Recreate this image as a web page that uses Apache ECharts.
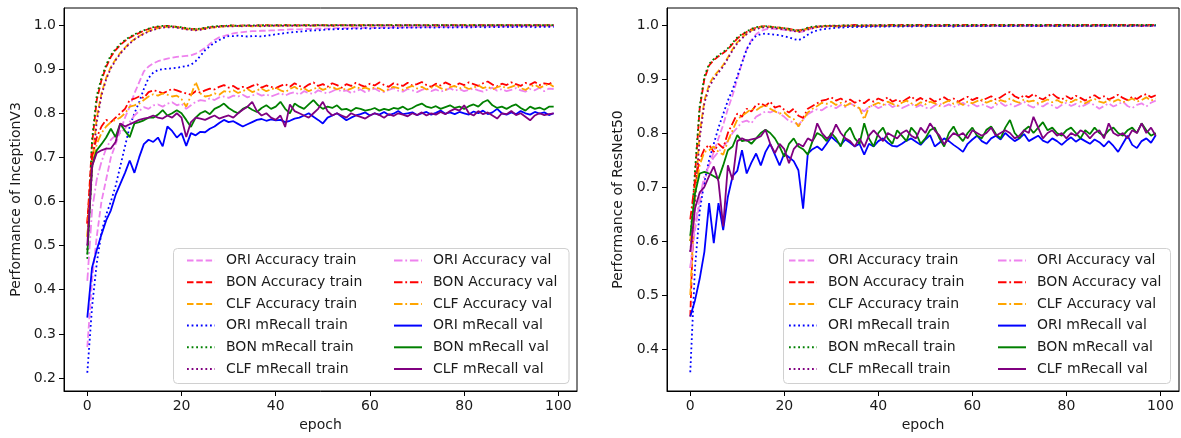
<!DOCTYPE html>
<html><head><meta charset="utf-8">
<script src="https://cdn.jsdelivr.net/npm/echarts@6/dist/echarts.min.js"></script>
<style>html,body{margin:0;padding:0;background:#fff}#c{width:1181px;height:438px}</style>
</head><body><div id="c"></div>
<script>
// ---------- data ----------
const xTicks = [0, 20, 40, 60, 80, 100];
const yTicksLeft = [0.2, 0.3, 0.4, 0.5, 0.6, 0.7, 0.8, 0.9, 1.0];
const yTicksRight = [0.4, 0.5, 0.6, 0.7, 0.8, 0.9, 1.0];
const seriesNames = ['ORI Accuracy train','BON Accuracy train','CLF Accuracy train','ORI mRecall train','BON mRecall train','CLF mRecall train',
  'ORI Accuracy val','BON Accuracy val','CLF Accuracy val','ORI mRecall val','BON mRecall val','CLF mRecall val'];
const yLabels = ['Performance of InceptionV3', 'Performance of ResNet50'];
const xLabel = 'epoch';

// ===== InceptionV3 =====
const incOriAccTrain = [
0.27,0.42,0.52,0.60,0.65,0.70,0.73,0.76,0.79,0.815,
0.845,0.87,0.895,0.906,0.913,0.918,0.921,0.924,0.926,0.928,
0.929,0.93,0.931,0.935,0.941,0.948,0.957,0.966,0.972,0.975,
0.978,0.981,0.983,0.984,0.985,0.986,0.986,0.987,0.987,0.988,
0.988,0.989,0.989,0.99,0.99,0.99,0.991,0.991,0.991,0.992,
0.992,0.992,0.992,0.993,0.993,0.993,0.993,0.994,0.993,0.994,
0.994,0.994,0.994,0.995,0.994,0.995,0.995,0.995,0.995,0.995,
0.995,0.996,0.995,0.996,0.996,0.996,0.996,0.996,0.996,0.997,
0.996,0.997,0.996,0.997,0.997,0.997,0.997,0.997,0.997,0.997,
0.997,0.997,0.998,0.997,0.997,0.998,0.997,0.998,0.998,0.998];
const incBonAccTrain = [
0.55,0.73,0.83,0.875,0.905,0.928,0.943,0.955,0.964,0.971,
0.977,0.982,0.987,0.991,0.994,0.996,0.997,0.998,0.997,0.996,
0.994,0.992,0.991,0.99,0.991,0.993,0.995,0.996,0.997,0.998,
0.998,0.999,0.998,0.999,0.999,0.998,0.999,0.999,1.0,0.999,
0.999,0.999,1.0,0.999,0.999,1.0,0.999,1.0,0.999,1.0,
0.999,1.0,0.999,1.0,1.0,0.999,1.0,0.999,1.0,1.0,
0.999,1.0,1.0,0.999,1.0,1.0,0.999,1.0,1.0,0.999,
1.0,1.0,0.999,1.0,1.0,1.0,0.999,1.0,1.0,1.0,
1.0,0.999,1.0,1.0,1.0,1.0,0.999,1.0,1.0,1.0,
1.0,1.0,0.999,1.0,1.0,1.0,1.0,0.999,1.0,1.0];
const incClfAccTrain = [
0.52,0.68,0.79,0.845,0.88,0.905,0.922,0.937,0.949,0.96,
0.968,0.975,0.981,0.986,0.99,0.993,0.995,0.996,0.996,0.995,
0.993,0.991,0.99,0.989,0.99,0.992,0.994,0.995,0.996,0.997,
0.997,0.998,0.997,0.998,0.998,0.997,0.998,0.998,0.999,0.998,
0.998,0.999,0.998,0.999,0.999,0.998,0.999,0.999,0.998,0.999,
0.999,0.999,0.998,0.999,0.999,0.999,0.998,0.999,0.999,0.999,
0.999,0.998,0.999,0.999,0.999,0.999,0.999,0.998,0.999,0.999,
0.999,0.999,0.999,0.999,0.998,0.999,0.999,0.999,0.999,0.999,
0.999,0.999,0.999,0.998,0.999,0.999,0.999,0.999,0.999,0.999,
0.999,0.999,0.999,0.999,0.999,0.998,0.999,0.999,0.999,0.999];
const incOriRecTrain = [
0.212,0.36,0.46,0.53,0.57,0.60,0.635,0.68,0.725,0.77,
0.80,0.825,0.855,0.88,0.892,0.898,0.90,0.901,0.902,0.903,
0.905,0.907,0.91,0.918,0.93,0.943,0.952,0.96,0.966,0.971,
0.975,0.975,0.976,0.975,0.974,0.975,0.975,0.974,0.976,0.977,
0.979,0.98,0.982,0.983,0.984,0.985,0.986,0.987,0.988,0.988,
0.989,0.99,0.99,0.991,0.991,0.991,0.992,0.992,0.992,0.993,
0.992,0.993,0.993,0.993,0.993,0.994,0.993,0.994,0.994,0.994,
0.994,0.994,0.995,0.994,0.994,0.995,0.995,0.994,0.995,0.995,
0.995,0.995,0.995,0.996,0.995,0.995,0.996,0.995,0.996,0.996,
0.995,0.996,0.996,0.996,0.996,0.995,0.996,0.996,0.996,0.996];
const incBonRecTrain = [
0.47,0.74,0.84,0.88,0.91,0.932,0.946,0.957,0.966,0.973,
0.979,0.984,0.988,0.992,0.995,0.997,0.998,0.998,0.997,0.996,
0.995,0.993,0.992,0.991,0.992,0.994,0.996,0.997,0.998,0.998,
0.999,0.999,0.998,0.999,0.999,0.999,0.999,1.0,0.999,0.999,
1.0,0.999,1.0,0.999,1.0,0.999,1.0,1.0,0.999,1.0,
1.0,0.999,1.0,1.0,0.999,1.0,1.0,1.0,0.999,1.0,
1.0,1.0,0.999,1.0,1.0,1.0,1.0,0.999,1.0,1.0,
1.0,0.999,1.0,1.0,1.0,1.0,1.0,1.0,0.999,1.0,
1.0,1.0,1.0,1.0,0.999,1.0,1.0,1.0,1.0,1.0,
0.999,1.0,1.0,1.0,1.0,1.0,1.0,1.0,1.0,1.0];
const incClfRecTrain = [
0.49,0.67,0.78,0.84,0.877,0.902,0.92,0.935,0.947,0.958,
0.967,0.974,0.98,0.985,0.989,0.992,0.994,0.995,0.995,0.994,
0.992,0.99,0.989,0.988,0.989,0.991,0.993,0.995,0.996,0.997,
0.997,0.997,0.998,0.997,0.998,0.998,0.998,0.997,0.998,0.998,
0.999,0.998,0.998,0.999,0.998,0.999,0.999,0.998,0.999,0.999,
0.999,0.999,0.998,0.999,0.999,0.999,0.999,0.999,0.998,0.999,
0.999,0.999,0.999,0.999,0.999,0.998,0.999,0.999,0.999,0.999,
0.999,0.999,0.999,0.998,0.999,0.999,0.999,0.999,0.999,0.999,
0.999,0.998,0.999,0.999,0.999,0.999,0.999,0.999,0.999,0.999,
0.999,0.999,0.999,0.999,0.998,0.999,0.999,0.999,0.999,0.999];
const incOriAccVal = [
0.42,0.58,0.65,0.69,0.72,0.74,0.75,0.755,0.765,0.78,
0.795,0.805,0.814,0.81,0.818,0.82,0.815,0.822,0.825,0.818,
0.822,0.81,0.818,0.826,0.83,0.828,0.834,0.83,0.836,0.838,
0.835,0.84,0.838,0.842,0.836,0.84,0.845,0.84,0.843,0.838,
0.842,0.846,0.84,0.845,0.848,0.842,0.85,0.846,0.844,0.852,
0.848,0.845,0.85,0.855,0.849,0.852,0.846,0.85,0.854,0.848,
0.852,0.856,0.85,0.848,0.853,0.857,0.851,0.849,0.855,0.852,
0.848,0.853,0.856,0.85,0.854,0.849,0.852,0.857,0.851,0.855,
0.85,0.853,0.856,0.852,0.849,0.854,0.858,0.851,0.855,0.85,
0.853,0.857,0.852,0.849,0.855,0.852,0.858,0.85,0.856,0.855];
const incBonAccVal = [
0.55,0.70,0.745,0.77,0.785,0.78,0.79,0.80,0.81,0.83,
0.833,0.838,0.835,0.848,0.852,0.85,0.845,0.85,0.855,0.852,
0.848,0.845,0.842,0.85,0.847,0.852,0.856,0.854,0.86,0.864,
0.858,0.862,0.855,0.86,0.857,0.862,0.866,0.858,0.863,0.86,
0.857,0.862,0.866,0.86,0.868,0.862,0.858,0.865,0.87,0.862,
0.866,0.86,0.868,0.864,0.858,0.866,0.862,0.869,0.864,0.86,
0.867,0.863,0.87,0.864,0.86,0.868,0.865,0.862,0.869,0.863,
0.866,0.871,0.864,0.86,0.867,0.863,0.87,0.865,0.861,0.868,
0.864,0.87,0.866,0.862,0.868,0.872,0.865,0.861,0.867,0.864,
0.87,0.866,0.862,0.869,0.865,0.871,0.864,0.868,0.866,0.873];
const incClfAccVal = [
0.52,0.68,0.73,0.755,0.77,0.78,0.785,0.79,0.80,0.815,
0.818,0.822,0.83,0.838,0.843,0.84,0.845,0.842,0.838,0.84,
0.832,0.815,0.84,0.871,0.845,0.838,0.84,0.845,0.842,0.85,
0.848,0.852,0.846,0.85,0.855,0.848,0.852,0.856,0.85,0.854,
0.858,0.852,0.848,0.855,0.86,0.853,0.857,0.85,0.855,0.859,
0.853,0.857,0.86,0.854,0.858,0.852,0.856,0.861,0.855,0.858,
0.854,0.859,0.856,0.85,0.855,0.86,0.857,0.853,0.858,0.862,
0.856,0.86,0.854,0.858,0.863,0.857,0.853,0.859,0.862,0.856,
0.86,0.855,0.858,0.863,0.857,0.86,0.854,0.859,0.862,0.856,
0.86,0.864,0.857,0.853,0.86,0.865,0.858,0.862,0.867,0.86];
const incOriRecVal = [
0.337,0.45,0.49,0.525,0.557,0.58,0.615,0.64,0.665,0.693,
0.665,0.70,0.73,0.74,0.735,0.745,0.725,0.77,0.76,0.745,
0.755,0.726,0.755,0.75,0.758,0.757,0.765,0.77,0.778,0.785,
0.78,0.782,0.776,0.77,0.775,0.78,0.785,0.787,0.783,0.786,
0.784,0.785,0.78,0.783,0.788,0.79,0.795,0.80,0.792,0.785,
0.777,0.79,0.795,0.80,0.792,0.784,0.79,0.795,0.798,0.802,
0.795,0.80,0.797,0.803,0.796,0.799,0.805,0.798,0.80,0.802,
0.796,0.80,0.803,0.797,0.801,0.806,0.799,0.802,0.798,0.803,
0.80,0.797,0.804,0.80,0.806,0.798,0.802,0.81,0.80,0.797,
0.802,0.798,0.805,0.80,0.797,0.803,0.799,0.802,0.796,0.80];
const incBonRecVal = [
0.48,0.68,0.716,0.73,0.745,0.765,0.746,0.777,0.76,0.746,
0.777,0.78,0.784,0.79,0.79,0.797,0.807,0.795,0.80,0.807,
0.80,0.785,0.769,0.79,0.80,0.805,0.798,0.81,0.815,0.822,
0.812,0.805,0.80,0.81,0.815,0.808,0.803,0.812,0.818,0.81,
0.815,0.826,0.81,0.80,0.822,0.815,0.81,0.82,0.83,0.818,
0.81,0.815,0.812,0.818,0.808,0.81,0.805,0.812,0.81,0.806,
0.808,0.812,0.806,0.81,0.807,0.812,0.81,0.815,0.808,0.812,
0.818,0.822,0.815,0.812,0.816,0.81,0.814,0.818,0.812,0.815,
0.81,0.816,0.82,0.815,0.825,0.83,0.818,0.812,0.815,0.81,
0.816,0.82,0.812,0.806,0.815,0.81,0.813,0.808,0.815,0.815];
const incClfRecVal = [
0.50,0.68,0.71,0.716,0.72,0.72,0.735,0.777,0.77,0.775,
0.78,0.785,0.788,0.79,0.795,0.79,0.788,0.795,0.79,0.80,
0.79,0.746,0.78,0.79,0.788,0.785,0.79,0.795,0.788,0.792,
0.795,0.79,0.80,0.808,0.815,0.826,0.805,0.795,0.80,0.79,
0.785,0.795,0.769,0.82,0.805,0.80,0.795,0.79,0.80,0.81,
0.826,0.805,0.795,0.80,0.795,0.79,0.80,0.795,0.792,0.788,
0.795,0.80,0.796,0.79,0.798,0.794,0.80,0.797,0.793,0.80,
0.796,0.802,0.795,0.80,0.797,0.803,0.798,0.805,0.81,0.806,
0.818,0.80,0.795,0.805,0.798,0.802,0.795,0.788,0.80,0.798,
0.805,0.796,0.80,0.792,0.784,0.795,0.80,0.796,0.798,0.80];

// ===== ResNet50 =====
const resOriAccTrain = [
0.55,0.62,0.67,0.71,0.74,0.765,0.79,0.815,0.845,0.87,
0.90,0.93,0.955,0.972,0.983,0.989,0.992,0.993,0.993,0.992,
0.991,0.99,0.989,0.987,0.988,0.991,0.994,0.996,0.997,0.998,
0.998,0.998,0.999,0.998,0.999,0.999,0.998,0.999,0.999,0.999,
0.998,0.999,0.999,0.999,0.999,0.998,0.999,0.999,0.999,0.999,
0.999,0.998,0.999,0.999,0.999,0.999,0.999,0.998,0.999,0.999,
0.999,0.999,0.999,0.999,0.998,0.999,0.999,0.999,0.999,0.999,
0.999,0.999,0.998,0.999,0.999,0.999,0.999,0.999,0.999,0.999,
0.999,0.999,0.999,0.999,0.999,0.998,0.999,0.999,0.999,0.999,
0.999,0.999,0.999,0.999,0.999,0.999,0.999,0.998,0.999,0.999];
const resBonAccTrain = [
0.46,0.72,0.845,0.90,0.925,0.935,0.942,0.948,0.955,0.965,
0.975,0.982,0.987,0.992,0.995,0.997,0.998,0.997,0.996,0.995,
0.994,0.993,0.991,0.99,0.991,0.994,0.996,0.997,0.998,0.998,
0.999,0.998,0.999,0.999,0.999,1.0,0.999,0.999,1.0,0.999,
1.0,0.999,1.0,1.0,0.999,1.0,1.0,0.999,1.0,1.0,
1.0,1.0,0.999,1.0,1.0,1.0,0.999,1.0,1.0,1.0,
1.0,0.999,1.0,1.0,1.0,1.0,1.0,0.999,1.0,1.0,
1.0,1.0,1.0,1.0,0.999,1.0,1.0,1.0,1.0,1.0,
1.0,1.0,0.999,1.0,1.0,1.0,1.0,1.0,1.0,0.999,
1.0,1.0,1.0,1.0,1.0,1.0,0.999,1.0,1.0,1.0];
const resClfAccTrain = [
0.50,0.68,0.80,0.86,0.89,0.905,0.915,0.926,0.94,0.955,
0.968,0.977,0.984,0.99,0.993,0.996,0.997,0.996,0.995,0.994,
0.993,0.991,0.99,0.988,0.99,0.993,0.995,0.996,0.997,0.998,
0.998,0.997,0.998,0.998,0.999,0.998,0.998,0.999,0.998,0.999,
0.999,0.998,0.999,0.999,0.999,0.998,0.999,0.999,0.999,0.999,
0.998,0.999,0.999,0.999,0.999,0.999,0.998,0.999,0.999,0.999,
0.999,0.999,0.999,0.998,0.999,0.999,0.999,0.999,0.999,0.999,
0.999,0.998,0.999,0.999,0.999,0.999,0.999,0.999,0.998,0.999,
0.999,0.999,0.999,0.999,0.999,0.999,0.999,0.998,0.999,0.999,
0.999,0.999,0.999,0.999,0.999,0.999,0.999,0.999,0.999,0.999];
const resOriRecTrain = [
0.357,0.55,0.655,0.71,0.75,0.78,0.81,0.835,0.86,0.88,
0.905,0.93,0.955,0.97,0.98,0.983,0.984,0.983,0.982,0.981,
0.979,0.977,0.974,0.972,0.976,0.982,0.987,0.99,0.992,0.993,
0.994,0.995,0.995,0.996,0.996,0.996,0.997,0.996,0.997,0.997,
0.997,0.997,0.997,0.998,0.997,0.997,0.998,0.997,0.998,0.998,
0.997,0.998,0.998,0.998,0.998,0.998,0.997,0.998,0.998,0.998,
0.998,0.998,0.998,0.998,0.998,0.999,0.998,0.998,0.998,0.998,
0.998,0.999,0.998,0.998,0.998,0.998,0.999,0.998,0.998,0.998,
0.999,0.998,0.998,0.998,0.999,0.998,0.998,0.999,0.998,0.998,
0.999,0.998,0.999,0.998,0.998,0.999,0.998,0.999,0.998,0.999];
const resBonRecTrain = [
0.60,0.73,0.85,0.905,0.928,0.937,0.944,0.95,0.957,0.967,
0.977,0.983,0.988,0.993,0.996,0.997,0.998,0.997,0.996,0.995,
0.994,0.993,0.991,0.99,0.992,0.995,0.997,0.998,0.998,0.999,
0.999,0.999,0.999,1.0,0.999,0.999,1.0,0.999,1.0,0.999,
1.0,1.0,0.999,1.0,1.0,0.999,1.0,1.0,1.0,0.999,
1.0,1.0,1.0,0.999,1.0,1.0,1.0,1.0,0.999,1.0,
1.0,1.0,1.0,1.0,0.999,1.0,1.0,1.0,1.0,1.0,
0.999,1.0,1.0,1.0,1.0,1.0,1.0,0.999,1.0,1.0,
1.0,1.0,1.0,1.0,1.0,0.999,1.0,1.0,1.0,1.0,
1.0,1.0,1.0,0.999,1.0,1.0,1.0,1.0,1.0,1.0];
const resClfRecTrain = [
0.58,0.67,0.79,0.855,0.885,0.90,0.912,0.923,0.938,0.953,
0.966,0.975,0.983,0.989,0.992,0.995,0.996,0.995,0.994,0.993,
0.992,0.99,0.989,0.987,0.989,0.992,0.994,0.996,0.997,0.997,
0.998,0.998,0.997,0.998,0.998,0.999,0.998,0.998,0.999,0.998,
0.999,0.999,0.998,0.999,0.999,0.999,0.998,0.999,0.999,0.999,
0.999,0.999,0.999,0.998,0.999,0.999,0.999,0.999,0.999,0.998,
0.999,0.999,0.999,0.999,0.999,0.999,0.998,0.999,0.999,0.999,
0.999,0.999,0.999,0.999,0.999,0.998,0.999,0.999,0.999,0.999,
0.999,0.999,0.999,0.999,0.999,0.999,0.999,0.999,0.998,0.999,
0.999,0.999,0.999,0.999,0.999,0.999,0.999,0.999,0.999,0.999];
const resOriAccVal = [
0.55,0.63,0.68,0.72,0.74,0.755,0.765,0.775,0.785,0.80,
0.81,0.82,0.823,0.818,0.83,0.835,0.84,0.838,0.842,0.836,
0.83,0.822,0.82,0.815,0.825,0.835,0.84,0.844,0.842,0.848,
0.85,0.846,0.852,0.848,0.855,0.85,0.845,0.84,0.848,0.852,
0.846,0.85,0.855,0.848,0.852,0.846,0.85,0.854,0.848,0.852,
0.847,0.845,0.851,0.855,0.849,0.853,0.848,0.852,0.856,0.85,
0.854,0.849,0.853,0.85,0.846,0.852,0.856,0.85,0.854,0.849,
0.853,0.858,0.851,0.847,0.853,0.849,0.855,0.851,0.846,0.852,
0.856,0.85,0.854,0.848,0.852,0.857,0.851,0.845,0.85,0.855,
0.849,0.853,0.858,0.85,0.846,0.852,0.855,0.849,0.856,0.86];
const resBonAccVal = [
0.64,0.71,0.75,0.77,0.778,0.765,0.78,0.772,0.80,0.818,
0.836,0.83,0.845,0.84,0.852,0.855,0.85,0.858,0.847,0.85,
0.843,0.838,0.845,0.832,0.828,0.845,0.85,0.855,0.86,0.862,
0.866,0.86,0.864,0.858,0.862,0.856,0.86,0.855,0.862,0.858,
0.864,0.86,0.866,0.858,0.862,0.857,0.863,0.868,0.86,0.865,
0.859,0.864,0.858,0.862,0.866,0.86,0.864,0.858,0.863,0.867,
0.861,0.865,0.86,0.864,0.868,0.862,0.866,0.872,0.876,0.868,
0.864,0.87,0.866,0.872,0.866,0.862,0.868,0.873,0.866,0.862,
0.868,0.863,0.869,0.865,0.86,0.866,0.87,0.864,0.868,0.862,
0.866,0.871,0.865,0.861,0.867,0.863,0.869,0.872,0.866,0.87];
const resClfAccVal = [
0.60,0.69,0.74,0.765,0.768,0.775,0.765,0.76,0.785,0.805,
0.825,0.832,0.838,0.845,0.842,0.848,0.852,0.845,0.84,0.836,
0.838,0.83,0.826,0.812,0.825,0.838,0.845,0.85,0.856,0.854,
0.858,0.852,0.856,0.85,0.855,0.85,0.846,0.825,0.848,0.852,
0.856,0.852,0.858,0.854,0.85,0.856,0.86,0.855,0.851,0.857,
0.853,0.858,0.855,0.85,0.856,0.86,0.854,0.857,0.852,0.858,
0.855,0.859,0.862,0.856,0.86,0.855,0.861,0.858,0.864,0.859,
0.856,0.862,0.858,0.86,0.855,0.858,0.862,0.857,0.861,0.856,
0.86,0.857,0.862,0.858,0.855,0.86,0.863,0.858,0.856,0.861,
0.858,0.862,0.857,0.86,0.864,0.858,0.861,0.866,0.86,0.864];
const resOriRecVal = [
0.46,0.49,0.53,0.58,0.67,0.596,0.67,0.62,0.682,0.72,
0.73,0.768,0.725,0.745,0.762,0.74,0.765,0.78,0.76,0.74,
0.762,0.755,0.748,0.731,0.66,0.762,0.77,0.775,0.768,0.78,
0.793,0.785,0.778,0.788,0.782,0.775,0.78,0.76,0.78,0.775,
0.785,0.79,0.782,0.776,0.775,0.78,0.786,0.79,0.784,0.778,
0.788,0.796,0.775,0.782,0.79,0.785,0.778,0.772,0.765,0.78,
0.788,0.795,0.785,0.78,0.79,0.795,0.788,0.80,0.792,0.785,
0.79,0.798,0.785,0.79,0.795,0.786,0.782,0.79,0.785,0.778,
0.786,0.792,0.784,0.79,0.785,0.78,0.788,0.783,0.775,0.785,
0.776,0.765,0.78,0.795,0.778,0.772,0.785,0.79,0.782,0.796];
const resBonRecVal = [
0.61,0.688,0.725,0.728,0.725,0.72,0.715,0.74,0.768,0.775,
0.796,0.785,0.787,0.78,0.79,0.80,0.806,0.80,0.79,0.775,
0.756,0.78,0.79,0.775,0.77,0.76,0.785,0.80,0.795,0.785,
0.80,0.79,0.775,0.80,0.81,0.79,0.78,0.818,0.79,0.775,
0.80,0.81,0.79,0.78,0.805,0.795,0.785,0.81,0.80,0.78,
0.79,0.805,0.81,0.79,0.775,0.80,0.812,0.795,0.785,0.80,
0.81,0.795,0.79,0.806,0.812,0.798,0.79,0.81,0.824,0.80,
0.79,0.805,0.812,0.80,0.81,0.82,0.805,0.81,0.80,0.795,
0.805,0.81,0.80,0.79,0.805,0.798,0.81,0.80,0.795,0.805,
0.81,0.80,0.795,0.805,0.81,0.80,0.818,0.805,0.795,0.80];
const resClfRecVal = [
0.58,0.66,0.69,0.70,0.72,0.738,0.71,0.627,0.74,0.713,
0.785,0.79,0.786,0.788,0.79,0.794,0.806,0.78,0.763,0.78,
0.77,0.744,0.77,0.78,0.775,0.79,0.785,0.818,0.80,0.79,
0.795,0.816,0.80,0.79,0.785,0.775,0.79,0.774,0.795,0.805,
0.795,0.785,0.80,0.795,0.79,0.80,0.805,0.795,0.79,0.81,
0.80,0.818,0.805,0.795,0.779,0.79,0.80,0.795,0.80,0.79,
0.805,0.80,0.795,0.80,0.81,0.795,0.80,0.805,0.80,0.79,
0.795,0.805,0.80,0.83,0.81,0.79,0.80,0.805,0.795,0.80,
0.79,0.80,0.795,0.805,0.80,0.79,0.80,0.805,0.79,0.818,
0.80,0.795,0.80,0.79,0.805,0.80,0.818,0.80,0.81,0.795];

const incData = [incOriAccTrain, incBonAccTrain, incClfAccTrain, incOriRecTrain, incBonRecTrain, incClfRecTrain,
  incOriAccVal, incBonAccVal, incClfAccVal, incOriRecVal, incBonRecVal, incClfRecVal];
const resData = [resOriAccTrain, resBonAccTrain, resClfAccTrain, resOriRecTrain, resBonRecTrain, resClfRecTrain,
  resOriAccVal, resBonAccVal, resClfAccVal, resOriRecVal, resBonRecVal, resClfRecVal];

// ---------- styles ----------
const colors = ['#ee82ee', '#ff0000', '#ffa500', '#0000ff', '#008000', '#800080'];
const dashes = {
  dashed: [6.5, 2.8],
  dotted: [1.8, 2.8],
  dashdot: [8.5, 2.8, 1.8, 2.8],
  solid: 'solid'
};
const kinds = ['dashed','dashed','dashed','dotted','dotted','dotted','dashdot','dashdot','dashdot','solid','solid','solid'];
const FONT = 'DejaVu Sans';
const TXT = '#1a1a1a';

function buildSeries(dataList, idx) {
  return dataList.map((arr, i) => ({
    type: 'line',
    name: seriesNames[i],
    xAxisIndex: idx, yAxisIndex: idx,
    data: arr.map((v, j) => [j, v]),
    symbol: 'none', showSymbol: false,
    silent: true,
    lineStyle: { color: colors[i % 6], width: 1.8, type: dashes[kinds[i]] },
    itemStyle: { color: colors[i % 6] },
    z: 2 + i * 0.01
  }));
}

const grids = [
  { left: 64, top: 8, width: 513, height: 383 },
  { left: 667, top: 8, width: 512, height: 383 }
];
const yRanges = [[0.1705, 1.0386], [0.3222, 1.0315]];
const yTicks = [yTicksLeft, yTicksRight];
const yNameGaps = [41, 42];

const option = {
  animation: false,
  backgroundColor: '#fff',
  grid: grids.map(g => Object.assign({ show: true, borderColor: '#000', borderWidth: 1, backgroundColor: 'transparent' }, g)),
  xAxis: [0, 1].map(k => ({
    type: 'value', gridIndex: k, min: -4.95, max: 103.95,
    name: xLabel, nameLocation: 'middle', nameGap: 27,
    nameTextStyle: { fontFamily: FONT, fontSize: 14, color: TXT },
    axisLine: { show: true, onZero: false, lineStyle: { color: '#000', width: 1 } },
    axisTick: { show: true, length: 5, inside: false, customValues: xTicks, lineStyle: { color: '#000' } },
    axisLabel: { customValues: xTicks, margin: 8, fontFamily: FONT, fontSize: 14, color: TXT },
    splitLine: { show: false }
  })),
  yAxis: [0, 1].map(k => ({
    type: 'value', gridIndex: k, min: yRanges[k][0], max: yRanges[k][1],
    name: yLabels[k], nameLocation: 'middle', nameGap: yNameGaps[k], nameRotate: 90,
    nameTextStyle: { fontFamily: FONT, fontSize: 14, color: TXT },
    axisLine: { show: true, onZero: false, lineStyle: { color: '#000', width: 1 } },
    axisTick: { show: true, length: 5, inside: false, customValues: yTicks[k], lineStyle: { color: '#000' } },
    axisLabel: { customValues: yTicks[k], margin: 8, fontFamily: FONT, fontSize: 14, color: TXT,
      formatter: v => Number(v).toFixed(1) },
    splitLine: { show: false }
  })),
  graphic: [
    { type: 'rect', z: 3, silent: true, shape: { x: 173.5, y: 248.5, width: 395.5, height: 135, r: 4 },
      style: { fill: 'rgba(255,255,255,0.85)', stroke: '#d0d0d0', lineWidth: 1 } },
    { type: 'rect', z: 3, silent: true, shape: { x: 783.5, y: 248.5, width: 387, height: 135, r: 4 },
      style: { fill: 'rgba(255,255,255,0.85)', stroke: '#d0d0d0', lineWidth: 1 } }
  ],
  legend: [
    [186, seriesNames.slice(0, 6)], [393, seriesNames.slice(6)],
    [788, seriesNames.slice(0, 6)], [997, seriesNames.slice(6)]
  ].map(([x, names]) => ({
    left: x, top: 253.5, orient: 'vertical', padding: 0, z: 5,
    itemWidth: 28, itemHeight: 14, itemGap: 7.7, selectedMode: false,
    itemStyle: { opacity: 0, borderWidth: 0 },
    data: names,
    textStyle: { fontFamily: FONT, fontSize: 14, color: TXT, lineHeight: 14, padding: [0, 0, 0, 6] }
  })),
  series: buildSeries(incData, 0).concat(buildSeries(resData, 1))
};

const chart = echarts.init(document.getElementById('c'), null, { renderer: 'canvas' });
chart.setOption(option);
</script>
</body></html>
